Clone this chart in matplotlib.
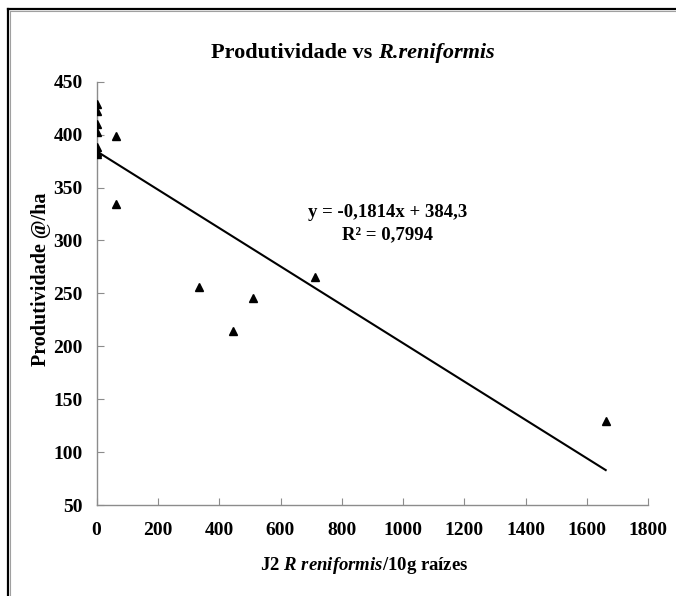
import numpy as np
import matplotlib.pyplot as plt
from matplotlib.lines import Line2D

# J2 R. reniformis / 10g raizes vs produtividade (@/ha)
nematodes = [0, 0, 0, 0, 0, 0, 0, 62, 62, 335, 446, 509, 712, 1661]
produtividade = [429, 422, 410, 402, 388, 384, 382, 399, 334, 256, 214, 246, 265, 129]

slope = -0.1814
intercept = 384.3
r2 = 0.7994

plt.rcParams['font.family'] = ['Liberation Serif', 'DejaVu Serif']
plt.rcParams['font.weight'] = 'bold'
plt.rcParams['mathtext.fontset'] = 'custom'
plt.rcParams['mathtext.rm'] = 'Liberation Serif:bold'
plt.rcParams['mathtext.it'] = 'Liberation Serif:italic:bold'
plt.rcParams['mathtext.bf'] = 'Liberation Serif:bold'

fig = plt.figure(figsize=(6.76, 5.96), dpi=100)
ax = fig.add_axes([96.6/676, 1-505/596, (648.3-96.6)/676, (505-81.7)/596])

ax.plot(nematodes, produtividade, '^', color='black', markersize=6, zorder=3)

xfit = np.array([min(nematodes), max(nematodes)])
ax.plot(xfit, slope*xfit + intercept, color='black', linewidth=1.5)

ax.set_xlim(0, 1800)
ax.set_ylim(50, 450)
ax.set_xticks(np.arange(0, 1801, 200))
ax.set_yticks(np.arange(50, 451, 50))

for side in ['top', 'right']:
    ax.spines[side].set_visible(False)
for side in ['left', 'bottom']:
    ax.spines[side].set_color('#8c8c8c')
    ax.spines[side].set_linewidth(1.0)
ax.tick_params(direction='in', length=5, color='#8c8c8c', labelsize=14)
ax.tick_params(axis='x', pad=12)
ax.tick_params(axis='y', pad=10)
for lab in ax.get_xticklabels() + ax.get_yticklabels():
    lab.set_fontweight('bold')

eq = 'y = -0,1814x + 384,3\nR² = 0,7994'
ax.text(950, 316, eq, ha='center', va='center', fontsize=13.5, fontweight='bold', linespacing=1.4)

# titulo em duas partes (normal + italico)
renderer = fig.canvas.get_renderer()
t1 = fig.text(0, 1-53/596, 'Produtividade vs ', ha='left', va='center', fontsize=16, fontweight='bold')
t2 = fig.text(0, 1-53/596, 'R.reniformis', ha='left', va='center', fontsize=16, fontweight='bold', style='italic')
w1 = t1.get_window_extent(renderer).width
w2 = t2.get_window_extent(renderer).width
x0 = 353 - (w1 + w2)/2
t1.set_x(x0/676)
t2.set_x((x0 + w1)/676)

fig.text(41/676, 1-279/596, 'Produtividade @/ha', rotation=90, ha='center', va='center',
         fontsize=14.5, fontweight='bold')
fig.text(364/676, 1-566/596, 'J2 $\\it{R\\ reniformis}$/10g raízes',
         ha='center', va='center', fontsize=13.5, fontweight='bold')

# moldura (so lado esquerdo e topo visiveis)
fig.add_artist(Line2D([8/676, 8/676], [0, 1-9/596], color='black', linewidth=1.6, transform=fig.transFigure))
fig.add_artist(Line2D([8/676, 1], [1-9/596, 1-9/596], color='black', linewidth=1.6, transform=fig.transFigure))
fig.add_artist(Line2D([10/676, 10/676], [0, 1-11/596], color='#a0a0a0', linewidth=0.8, transform=fig.transFigure))
fig.add_artist(Line2D([10/676, 1], [1-11/596, 1-11/596], color='#a0a0a0', linewidth=0.8, transform=fig.transFigure))

plt.savefig('out.png', dpi=100)
